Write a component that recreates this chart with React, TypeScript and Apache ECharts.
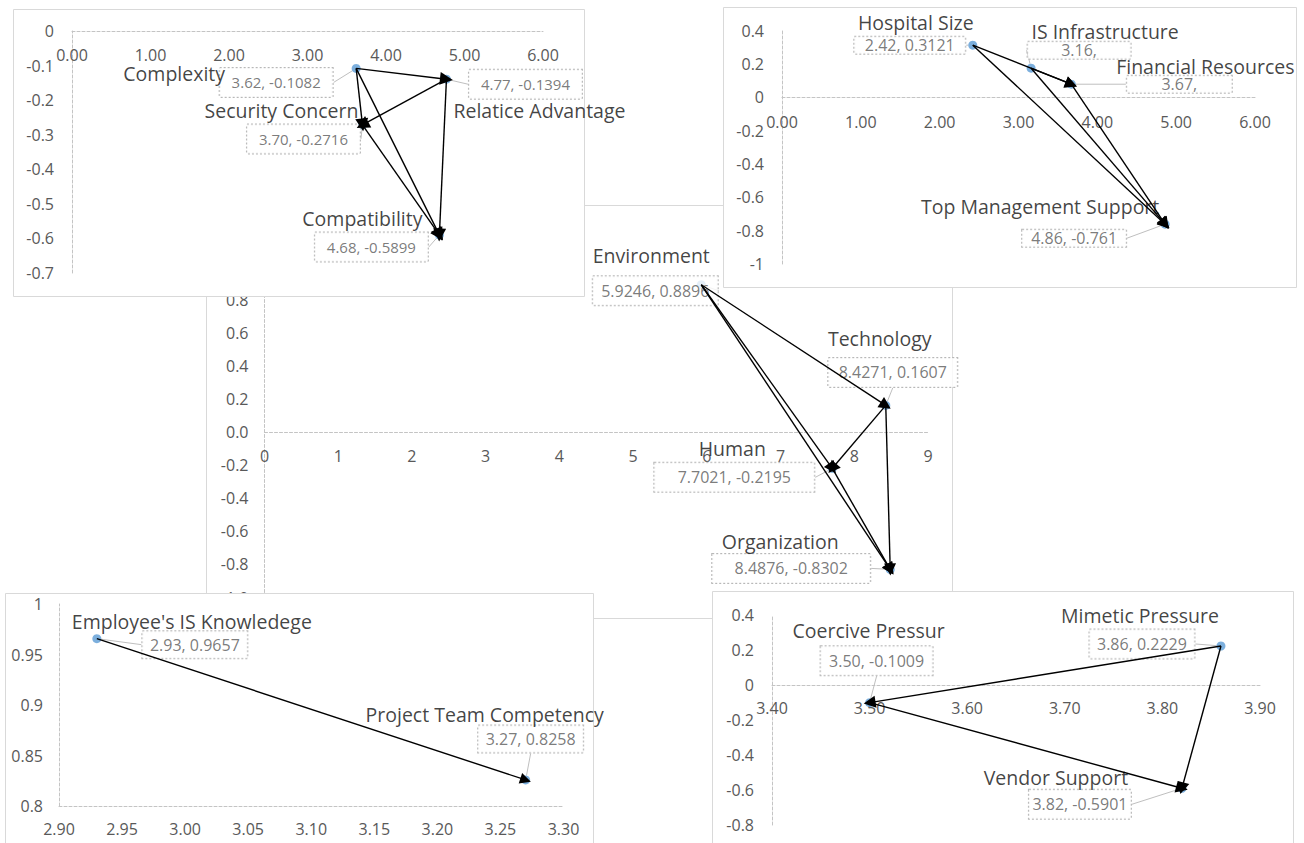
import React, { useEffect, useRef } from "react";
import * as echarts from "echarts";

// ---------- Technology factors (top-left panel)
const techNames = ["Complexity", "Relatice Advantage", "Security Concern", "Compatibility"];
const techX = [3.62, 4.77, 3.7, 4.68];
const techY = [-0.1082, -0.1394, -0.2716, -0.5899];
const techBoxText = ["3.62, -0.1082", "4.77, -0.1394", "3.70, -0.2716", "4.68, -0.5899"];
const techEdges = [[0, 1], [0, 2], [0, 3], [1, 2], [1, 3], [2, 3]];

// ---------- Organization factors (top-right panel)
const orgNames = ["Hospital Size", "IS Infrastructure", "Financial Resources", "Top Management Support"];
const orgX = [2.42, 3.16, 3.67, 4.86];
const orgY = [0.3121, 0.174, 0.078, -0.761];
const orgBoxText = ["2.42, 0.3121", "3.16,", "3.67,", "4.86, -0.761"];
const orgEdges = [[0, 2], [1, 2], [0, 3], [1, 3], [2, 3]];

// ---------- Main dimensions (centre panel)
const mainNames = ["Environment", "Technology", "Human", "Organization"];
const mainX = [5.9246, 8.4271, 7.7021, 8.4876];
const mainY = [0.8896, 0.1607, -0.2195, -0.8302];
const mainBoxText = ["5.9246, 0.8896", "8.4271, 0.1607", "7.7021, -0.2195", "8.4876, -0.8302"];
const mainEdges = [[0, 1], [0, 2], [0, 3], [1, 2], [1, 3], [2, 3]];

// ---------- Human factors (bottom-left panel)
const humNames = ["Employee's IS Knowledege", "Project Team Competency"];
const humX = [2.93, 3.27];
const humY = [0.9657, 0.8258];
const humBoxText = ["2.93, 0.9657", "3.27, 0.8258"];
const humEdges = [[0, 1]];

// ---------- Environment factors (bottom-right panel)
const envNames = ["Coercive Pressur", "Mimetic Pressure", "Vendor Support"];
const envX = [3.5, 3.86, 3.82];
const envY = [-0.1009, 0.2229, -0.5901];
const envBoxText = ["3.50, -0.1009", "3.86, 0.2229", "3.82, -0.5901"];
const envEdges = [[1, 0], [0, 2], [1, 2]];

// ---------- axis ranges [min, max, interval]
const techXRange = [0, 6, 1];
const techYRange = [-0.7, 0, 0.1];
const orgXRange = [0, 6, 1];
const orgYRange = [-1, 0.4, 0.2];
const mainXRange = [0, 9, 1];
const mainYRange = [-1, 1, 0.2];
const humXRange = [2.9, 3.3, 0.05];
const humYRange = [0.8, 1, 0.05];
const envXRange = [3.4, 3.9, 0.1];
const envYRange = [-0.8, 0.4, 0.2];

const FONT = "'Open Sans', 'DejaVu Sans', sans-serif";
const fix2 = (v: number) => v.toFixed(2);
const fix1 = (v: number) => v.toFixed(1);
const fix0 = (v: number) => String(Math.round(v));
const gen = (v: number) => String(Math.round(v * 1000) / 1000);

type Panel = {
  names: string[]; xs: number[]; ys: number[]; boxText: string[]; edges: number[][];
  xr: number[]; yr: number[]; xFmt: (v: number) => string; yFmt: (v: number) => string;
  grid: number[]; frame: number[];
  nameOff: number[][]; boxOff: number[][]; boxW: number[]; boxPad: number[]; boxLH: number;
  boxFont: number; tickFont: number; xMargin: number; yMargin: number; arrow: number; z: number;
};

const panels: Panel[] = [
  {
    names: mainNames, xs: mainX, ys: mainY, boxText: mainBoxText, edges: mainEdges,
    xr: mainXRange, yr: mainYRange, xFmt: fix0, yFmt: fix1,
    grid: [264.5, 266.5, 663.5, 331], frame: [206.5, 205.5, 746, 413],
    nameOff: [[-50, -29], [-6, -67], [-100, -20], [-110, -28]],
    boxOff: [[-46, 6], [7, -33], [-98, 9], [-99, -1]],
    boxW: [111, 115, 146, 144], boxPad: [5, 7], boxLH: 19, boxFont: 16, tickFont: 16,
    xMargin: 16, yMargin: 16, arrow: 12, z: 1,
  },
  {
    names: techNames, xs: techX, ys: techY, boxText: techBoxText, edges: techEdges,
    xr: techXRange, yr: techYRange, xFmt: fix2, yFmt: gen,
    grid: [72, 31, 471, 242], frame: [13.5, 9.5, 571, 287],
    nameOff: [[-182, 5], [93, 31], [-81, -14], [-77, -16]],
    boxOff: [[-80, 14], [79, 5], [-59, 14], [-68, 12]],
    boxW: [99, 99, 99, 99], boxPad: [5, 7], boxLH: 19, boxFont: 15, tickFont: 16,
    xMargin: 16, yMargin: 18, arrow: 13, z: 10,
  },
  {
    names: orgNames, xs: orgX, ys: orgY, boxText: orgBoxText, edges: orgEdges,
    xr: orgXRange, yr: orgYRange, xFmt: fix2, yFmt: gen,
    grid: [782, 30.5, 473, 233.5], frame: [723.5, 7.5, 573, 280],
    nameOff: [[-57, -23], [74, -37], [134, -18], [-125, -18]],
    boxOff: [[-63, 0], [48, -18], [108, 0], [-91, 14]],
    boxW: [99, 91, 93, 92], boxPad: [1, 6], boxLH: 15, boxFont: 16, tickFont: 16,
    xMargin: 17, yMargin: 18, arrow: 12, z: 10,
  },
  {
    names: humNames, xs: humX, ys: humY, boxText: humBoxText, edges: humEdges,
    xr: humXRange, yr: humYRange, xFmt: fix2, yFmt: gen,
    grid: [59, 604, 504.5, 202], frame: [5.5, 593.5, 588, 262],
    nameOff: [[95, -17], [-41, -65]],
    boxOff: [[98, 6], [5, -41]],
    boxW: [93, 93], boxPad: [4, 6], boxLH: 19, boxFont: 16, tickFont: 16,
    xMargin: 15, yMargin: 16, arrow: 11, z: 10,
  },
  {
    names: envNames, xs: envX, ys: envY, boxText: envBoxText, edges: envEdges,
    xr: envXRange, yr: envYRange, xFmt: fix2, yFmt: gen,
    grid: [772, 615, 488, 210], frame: [712.5, 591.5, 581, 262],
    nameOff: [[-1, -72], [-81, -30], [-126, -11]],
    boxOff: [[7, -42], [-79, -2], [-102, 16]],
    boxW: [100, 93, 90], boxPad: [5, 6], boxLH: 19, boxFont: 16, tickFont: 16,
    xMargin: 15, yMargin: 18, arrow: 12, z: 10,
  },
];

// Excel-style: the horizontal axis crosses the vertical axis at y = 0 when 0 is in range.
function zeroOffset(p: Panel) {
  const [lo, hi] = p.yr;
  if (lo > 0 || hi < 0) return 0;
  return -((0 - lo) / (hi - lo)) * p.grid[3];
}

function buildOption() {
  const lineStyle = { color: "#c4c4c4", width: 1, type: [3, 2] };
  const series: any[] = [];
  panels.forEach((p, i) => {
    series.push({
      type: "scatter", xAxisIndex: i, yAxisIndex: i, z: p.z + 2,
      symbol: "circle", symbolSize: 9, itemStyle: { color: "#5b9bd5" },
      emphasis: { disabled: true }, silent: true,
      data: p.xs.map((x, k) => ({ value: [x, p.ys[k]], label: { width: p.boxW[k] } })),
      label: {
        show: true, position: "inside", formatter: (prm: any) => p.boxText[prm.dataIndex],
        color: "#595959", fontSize: p.boxFont, fontFamily: FONT, textBorderWidth: 0,
        backgroundColor: "#fff", borderColor: "#a6a6a6", borderWidth: 1, borderType: [2, 2],
        padding: p.boxPad, lineHeight: p.boxLH, align: "center", verticalAlign: "middle",
      },
      labelLayout: (prm: any) => ({ dx: p.boxOff[prm.dataIndex][0], dy: p.boxOff[prm.dataIndex][1] }),
      labelLine: { show: true, lineStyle: { color: "#bfbfbf", width: 1 } },
    });
    series.push({
      type: "scatter", xAxisIndex: i, yAxisIndex: i, z: p.z + 2,
      symbol: "circle", symbolSize: 1, itemStyle: { color: "rgba(0,0,0,0)" },
      emphasis: { disabled: true }, silent: true,
      data: p.xs.map((x, k) => [x, p.ys[k]]),
      label: {
        show: true, position: "inside", formatter: (prm: any) => p.names[prm.dataIndex],
        color: "#111", fontSize: 19.5, fontFamily: FONT, textBorderWidth: 0,
        align: "center", verticalAlign: "middle",
      },
      labelLayout: (prm: any) => ({ dx: p.nameOff[prm.dataIndex][0], dy: p.nameOff[prm.dataIndex][1] }),
    });
    series.push({
      type: "lines", coordinateSystem: "cartesian2d", xAxisIndex: i, yAxisIndex: i, z: p.z + 3,
      symbol: ["none", "triangle"], symbolSize: p.arrow, silent: true,
      lineStyle: { color: "#000", width: 1.4, opacity: 1, curveness: 0 },
      data: p.edges.map(([a, b]) => ({ coords: [[p.xs[a], p.ys[a]], [p.xs[b], p.ys[b]]] })),
    });
  });

  return {
    animation: false,
    backgroundColor: "#ffffff",
    graphic: panels.map((p) => ({
      type: "rect", z: p.z, silent: true,
      shape: { x: p.frame[0], y: p.frame[1], width: p.frame[2], height: p.frame[3] },
      style: { fill: "#ffffff", stroke: "#d9d9d9", lineWidth: 1 },
    })),
    grid: panels.map((p) => ({ left: p.grid[0], top: p.grid[1], width: p.grid[2], height: p.grid[3], show: false })),
    xAxis: panels.map((p, i) => ({
      type: "value", gridIndex: i, min: p.xr[0], max: p.xr[1], interval: p.xr[2], z: p.z + 1,
      position: "bottom", offset: zeroOffset(p),
      axisLine: { show: true, onZero: false, lineStyle },
      axisTick: { show: false }, splitLine: { show: false },
      axisLabel: { formatter: p.xFmt, color: "#595959", fontSize: p.tickFont, fontFamily: FONT, margin: p.xMargin },
    })),
    yAxis: panels.map((p, i) => ({
      type: "value", gridIndex: i, min: p.yr[0], max: p.yr[1], interval: p.yr[2], z: p.z + 1,
      position: "left",
      axisLine: { show: true, onZero: false, lineStyle },
      axisTick: { show: false }, splitLine: { show: false },
      axisLabel: { formatter: p.yFmt, color: "#595959", fontSize: p.tickFont, fontFamily: FONT, margin: p.yMargin },
    })),
    series,
  };
}

export default function App() {
  const ref = useRef<HTMLDivElement>(null);
  useEffect(() => {
    if (!ref.current) return;
    const chart = echarts.init(ref.current, undefined, { renderer: "svg" });
    chart.setOption(buildOption() as any);
    return () => chart.dispose();
  }, []);
  return (
    <div
      ref={ref}
      style={{ position: "fixed", left: 0, top: 0, width: 1304, height: 843, background: "#fff" }}
    />
  );
}
